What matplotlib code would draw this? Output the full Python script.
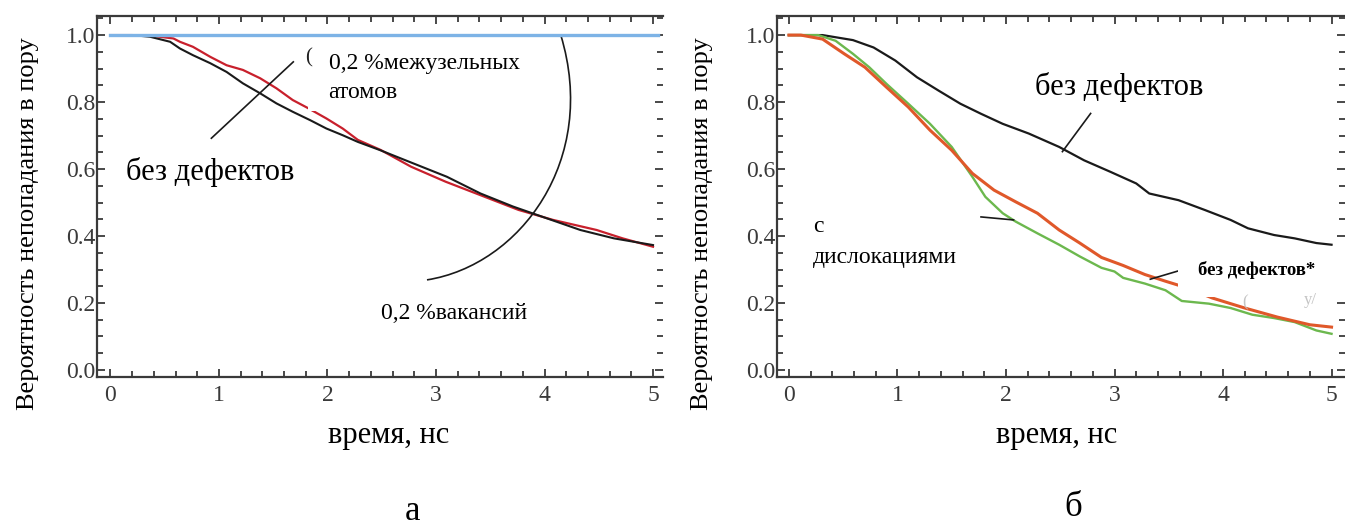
import numpy as np
import matplotlib
matplotlib.use('Agg')
import matplotlib.pyplot as plt
from matplotlib.path import Path
from matplotlib.patches import PathPatch, Rectangle
from matplotlib.ticker import MultipleLocator, FormatStrFormatter

plt.rcParams['font.family'] = ['Liberation Serif', 'DejaVu Serif']

# panel a: probability vs time (ns)
t_a_clean = [0, 0.2, 0.365, 0.55, 0.64, 0.76, 0.92, 1.07, 1.22, 1.38, 1.53, 1.68, 1.84, 1.99,
             2.14, 2.28, 2.48, 2.79, 3.10, 3.41, 3.71, 4.02, 4.33, 4.64, 5.0]
p_a_clean = [1.0, 1.0, 0.995, 0.98, 0.96, 0.94, 0.916, 0.89, 0.856, 0.826, 0.796, 0.771, 0.746, 0.721,
             0.701, 0.681, 0.657, 0.617, 0.577, 0.527, 0.488, 0.453, 0.418, 0.393, 0.373]
t_a_inter = [0, 0.2, 0.4, 0.58, 0.64, 0.76, 0.92, 1.07, 1.22, 1.38, 1.53, 1.68, 1.82, 1.99,
             2.14, 2.28, 2.49, 2.77, 3.09, 3.37, 3.76, 4.08, 4.48, 4.72, 5.0]
p_a_inter = [1.0, 1.0, 0.997, 0.99, 0.98, 0.965, 0.935, 0.91, 0.896, 0.871, 0.841, 0.806, 0.782, 0.751,
             0.721, 0.687, 0.657, 0.607, 0.562, 0.527, 0.478, 0.448, 0.418, 0.393, 0.368]
t_a_vac = [0, 5.05]
p_a_vac = [1.0, 1.0]

# panel b
t_b_clean = [0, 0.31, 0.59, 0.78, 0.98, 1.18, 1.38, 1.58, 1.77, 1.97, 2.21, 2.49, 2.72, 2.96,
             3.2, 3.32, 3.59, 3.83, 4.07, 4.23, 4.47, 4.66, 4.86, 5.0]
p_b_clean = [1.0, 1.0, 0.985, 0.963, 0.924, 0.874, 0.834, 0.795, 0.765, 0.735, 0.706, 0.666, 0.626, 0.592,
             0.557, 0.527, 0.507, 0.478, 0.448, 0.423, 0.403, 0.393, 0.379, 0.374]
t_b_star = [0, 0.11, 0.31, 0.51, 0.70, 0.90, 1.10, 1.30, 1.50, 1.69, 1.89, 2.09, 2.29, 2.49, 2.68,
            2.88, 3.08, 3.28, 3.47, 3.67, 3.90, 4.2, 4.5, 4.8, 5.0]
p_b_star = [1.0, 1.0, 0.988, 0.944, 0.904, 0.844, 0.785, 0.716, 0.656, 0.587, 0.537, 0.502, 0.468, 0.418, 0.379,
            0.336, 0.312, 0.285, 0.265, 0.245, 0.215, 0.185, 0.158, 0.135, 0.128]
t_b_disl = [0, 0.27, 0.43, 0.59, 0.74, 0.90, 1.10, 1.30, 1.50, 1.69, 1.81, 1.97, 2.09, 2.29, 2.49,
            2.68, 2.88, 3.0, 3.08, 3.28, 3.47, 3.62, 3.87, 4.07, 4.27, 4.47, 4.66, 4.86, 5.0]
p_b_disl = [1.0, 1.0, 0.983, 0.944, 0.904, 0.854, 0.795, 0.735, 0.666, 0.577, 0.517, 0.468, 0.443, 0.408, 0.374,
            0.339, 0.305, 0.294, 0.275, 0.258, 0.238, 0.206, 0.198, 0.185, 0.165, 0.155, 0.143, 0.118, 0.108]

ylab = 'Вероятность непопадания в пору'
xlab = 'время, нс'
gray = '#3a3a3a'

fig = plt.figure(figsize=(13.45, 5.26), dpi=100)
ax1 = fig.add_axes([97/1345, 149/526, 566/1345, 361/526])
ax2 = fig.add_axes([777/1345, 149/526, 568/1345, 361/526])


def style(ax, xlo, xhi):
    ax.set_xlim(xlo, xhi)
    ax.set_ylim(-0.021, 1.057)
    ax.xaxis.set_major_locator(MultipleLocator(1))
    ax.xaxis.set_minor_locator(MultipleLocator(0.2))
    ax.yaxis.set_major_locator(MultipleLocator(0.2))
    ax.yaxis.set_minor_locator(MultipleLocator(0.05))
    ax.xaxis.set_major_formatter(FormatStrFormatter('%d'))
    ax.yaxis.set_major_formatter(FormatStrFormatter('%.1f'))
    ax.tick_params(which='both', direction='in', top=True, right=True, color=gray, width=1.3,
                   labelsize=17, labelcolor=gray)
    ax.tick_params(which='major', length=6)
    ax.tick_params(which='minor', length=4.5)
    ax.tick_params(axis='y', pad=1)
    ax.tick_params(axis='x', pad=6)
    for s in ['left', 'bottom', 'top']:
        ax.spines[s].set_color(gray)
        ax.spines[s].set_linewidth(1.6)
    ax.spines['right'].set_visible(False)


style(ax1, -0.124, 5.092)
style(ax2, -0.11, 5.124)

# panel a
ax1.plot(t_a_inter, p_a_inter, color='#c8202c', lw=1.6)
ax1.plot(t_a_clean, p_a_clean, color='#1a1a1a', lw=1.5)
ax1.plot(t_a_vac, p_a_vac, color='#7db3e6', lw=2.4, clip_on=False, zorder=5)
ax1.add_patch(Rectangle((1.82, 0.772), 2.1, 0.22, facecolor='white', edgecolor='none', zorder=3))
ax1.plot([0.93, 1.685], [0.692, 0.92], color='#1a1a1a', lw=1.2, zorder=4)
arc = Path([(2.917, 0.269), (3.774, 0.313), (4.5, 0.627), (4.15, 1.0)],
           [Path.MOVETO, Path.CURVE4, Path.CURVE4, Path.CURVE4])
ax1.add_patch(PathPatch(arc, facecolor='none', edgecolor='#1a1a1a', lw=1.2, zorder=4))
ax1.text(1.79, 0.931, '(', fontsize=15, color='#222222', va='center', zorder=6)
ax1.text(2.01, 0.916, '0,2 %межузельных', fontsize=17, va='center', zorder=6)
ax1.text(2.01, 0.83, 'атомов', fontsize=17, va='center', zorder=6)
ax1.text(0.14, 0.591, 'без дефектов', fontsize=22, va='center', zorder=6)
ax1.text(2.49, 0.17, '0,2 %вакансий', fontsize=17, va='center', zorder=6)

# panel b
ax2.plot(t_b_clean, p_b_clean, color='#1a1a1a', lw=1.6)
ax2.plot(t_b_disl, p_b_disl, color='#6cb84e', lw=1.7)
ax2.plot(t_b_star, p_b_star, color='#e0582a', lw=2.2)
ax2.add_patch(Rectangle((3.585, 0.218), 1.6, 0.149, facecolor='white', edgecolor='none',
                        zorder=7, clip_on=False))
ax2.plot([2.78, 2.52], [0.766, 0.652], color='#1a1a1a', lw=1.2, zorder=4)
ax2.plot([1.77, 2.07], [0.457, 0.448], color='#1a1a1a', lw=1.2, zorder=4)
ax2.plot([3.33, 3.59], [0.271, 0.296], color='#1a1a1a', lw=1.2, zorder=4)
ax2.text(2.27, 0.845, 'без дефектов', fontsize=22, va='center', zorder=6)
ax2.text(0.22, 0.427, 'с', fontsize=17, va='center', zorder=6)
ax2.text(0.22, 0.337, 'дислокациями', fontsize=17, va='center', zorder=6)
ax2.text(3.77, 0.299, 'без дефектов*', fontsize=13.5, fontweight='bold', va='center', zorder=8)
ax2.text(4.18, 0.203, '(', fontsize=12, color='#c4c4c4', va='center', zorder=8)
ax2.text(4.74, 0.21, 'у/', fontsize=12, color='#c4c4c4', va='center', zorder=8)

# axis titles and panel letters
for xc, xl in [(28, 389), (702, 1057)]:
    fig.text(xc/1345, 1 - 224/526, ylab, rotation=90, ha='center', va='center', fontsize=19)
    fig.text(xl/1345, 1 - 435/526, xlab, ha='center', va='center', fontsize=22)
fig.text(413/1345, 1 - 512/526, 'а', ha='center', va='center', fontsize=25)
fig.text(1073/1345, 1 - 508/526, 'б', ha='center', va='center', fontsize=25)

fig.savefig('out.png', dpi=100)
